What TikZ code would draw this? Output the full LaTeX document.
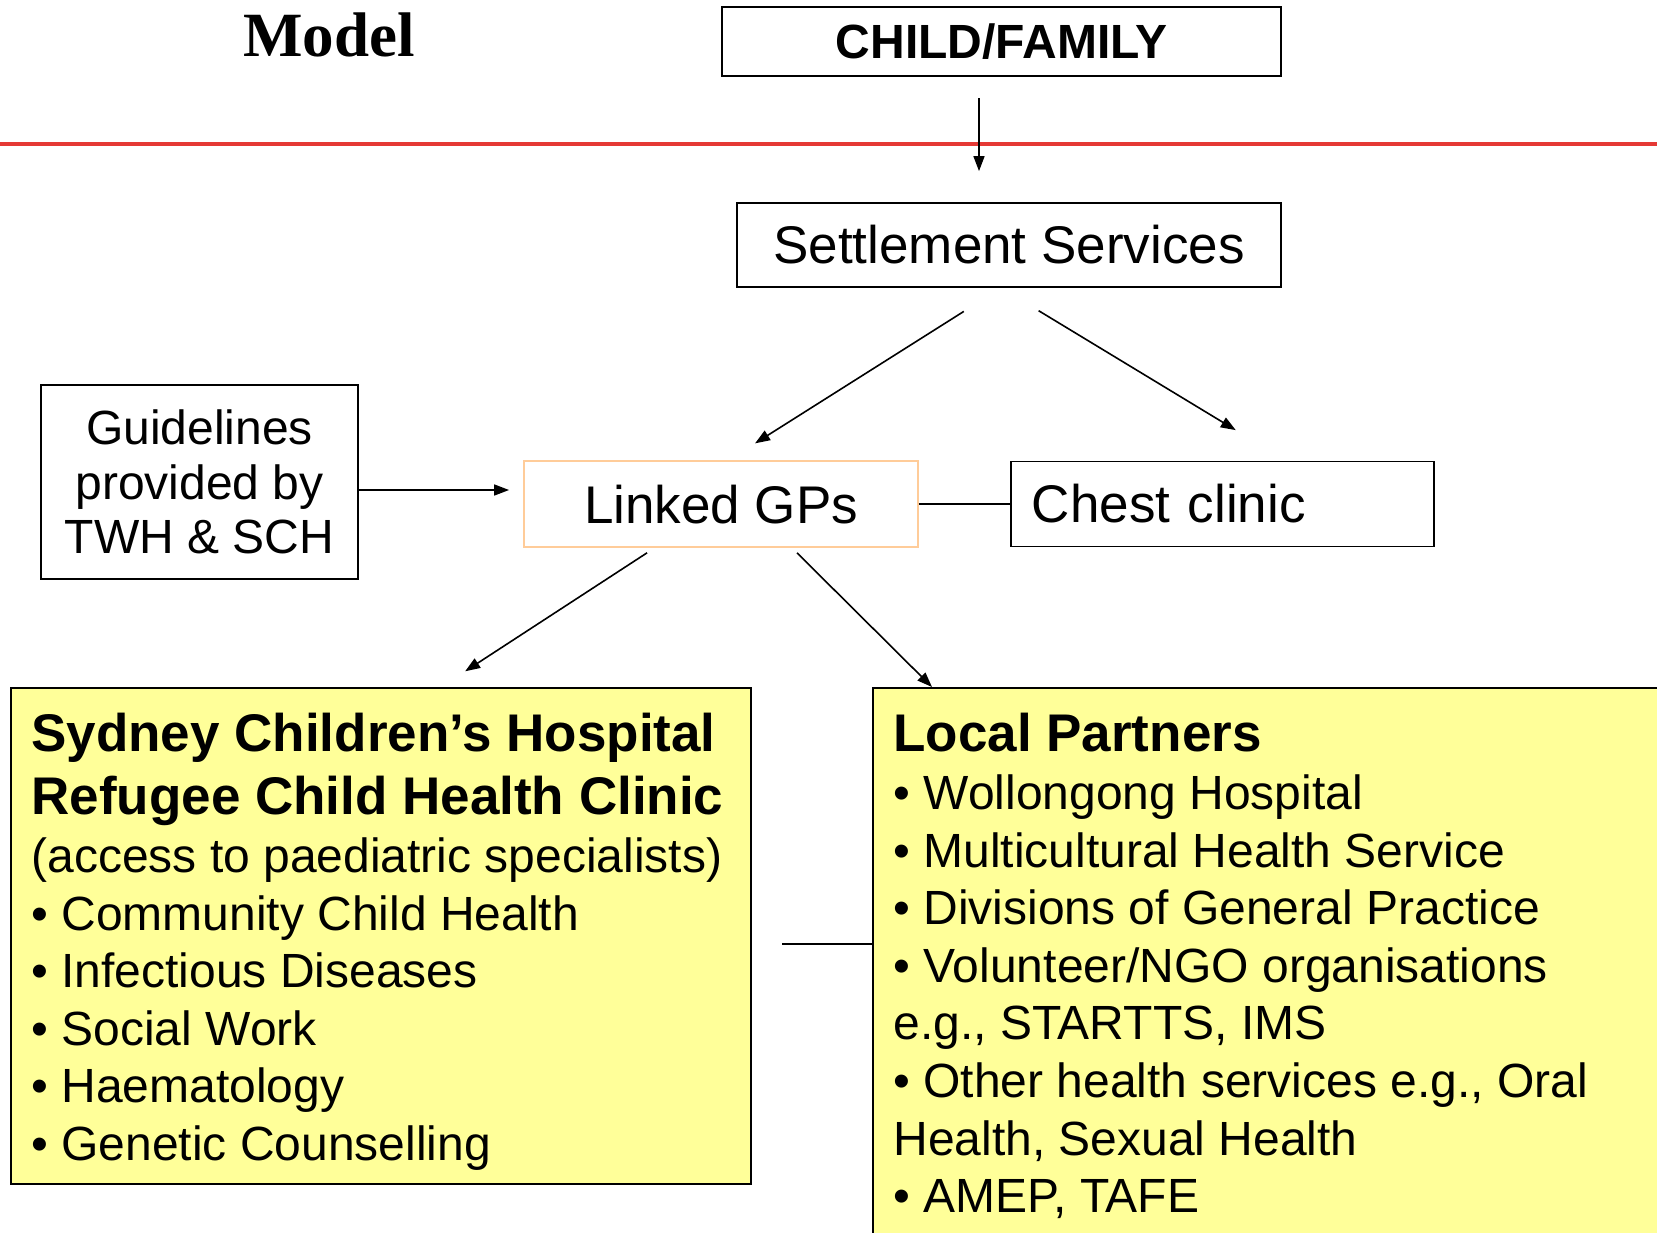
\documentclass[tikz,border=0pt]{standalone}
\usepackage{fontspec}
\setmainfont{Liberation Sans}
\newfontfamily\titlefont{Liberation Serif}
\usepackage{tikz}
\usetikzlibrary{arrows.meta,positioning}
\definecolor{slidered}{HTML}{E53935}
\definecolor{notepad}{HTML}{FFFF99}
\definecolor{peach}{HTML}{FFCC99}
\newcommand\panelhead{\fontsize{26.5}{31}\selectfont\bfseries}

\begin{document}
\begin{tikzpicture}[
  x=0.5pt,y=-0.5pt,
  box/.style={draw,line width=0.9pt,align=center,inner sep=0pt,font=\fontsize{26.5}{31}\selectfont},
  panel/.style={draw,line width=1pt,fill=notepad,inner sep=0pt},
  list/.style={anchor=north west,align=left,inner sep=0pt,font=\fontsize{24}{28.8}\selectfont},
  arr/.style={-{Triangle[length=7.5pt,width=5.5pt]},line width=0.8pt},
  link/.style={line width=0.8pt}
]
\clip (0,0) rectangle (1657,1232);
\fill[white] (0,0) rectangle (1657,1232);

% heading and the red rule under it
\node[font=\titlefont\bfseries\fontsize{31.5}{36}\selectfont,anchor=base] (model) at (329,56) {Model};
\draw[slidered,line width=2pt] (0,144) -- (1657,144);

\node[box,font=\bfseries\fontsize{24}{28}\selectfont,minimum width=279.5pt,minimum height=34.5pt,line width=1.1pt] (child) at (1001.5,41.5) {CHILD/FAMILY};
\node[box,minimum width=272pt,minimum height=42pt] (settle) at (1009,245) {Settlement Services};
\node[box,draw=peach,minimum width=197pt,minimum height=43pt,text depth=0pt] (linked) at (721,504) {Linked GPs};
\node[box,right=45.5pt of linked,align=left,text width=190.75pt,inner xsep=10.5pt,minimum height=42.5pt] (chest) {Chest clinic};
\node[box,font=\fontsize{24}{27.25}\selectfont,minimum width=158.5pt,minimum height=97pt] (guide) at (199.5,482) {Guidelines\\provided by\\TWH \& SCH};

% the two partner panels
\node[panel,minimum width=370pt,minimum height=248pt] (sch) at (381,936) {};
\node[panel,minimum width=413.5pt,minimum height=286pt] (local) at (1286.5,974) {};
\node[list] (schtext) at ([xshift=10.5pt,yshift=-13pt]sch.north west)
  {{\panelhead Sydney Children’s Hospital}\\[2.7pt]{\panelhead Refugee Child Health Clinic}\\(access to paediatric specialists)\\• Community Child Health\\• Infectious Diseases\\• Social Work\\• Haematology\\• Genetic Counselling};
\node[list] (localtext) at ([xshift=10.5pt,yshift=-13pt]local.north west)
  {{\panelhead Local Partners}\\• Wollongong Hospital\\• Multicultural Health Service\\• Divisions of General Practice\\• Volunteer/NGO organisations\\e.g., STARTTS, IMS\\• Other health services e.g., Oral\\Health, Sexual Health\\• AMEP, TAFE};

% connectors
\coordinate (drop) at ([xshift=-11.25pt]child.south);
\draw[arr,shorten <=10.5pt,shorten >=15.5pt] (drop) -- (drop |- settle.north);
\draw[arr,shorten <=22pt,shorten >=15.7pt] ([xshift=-4pt]settle.south) -- ([xshift=3.75pt]linked.north);
\draw[arr,shorten <=22pt,shorten >=29.4pt] ([xshift=-4pt]settle.south) -- ([xshift=31.75pt]chest.north);
\draw[arr,shorten >=7pt] ([yshift=-4pt]guide.east) -- ([yshift=-4pt]guide.east -| linked.west);
\draw[link] (linked) -- (chest);
\draw[arr,shorten <=4.5pt,shorten >=14.4pt] ([xshift=-33.2pt]linked.south) -- ([xshift=30pt]sch.north);
\draw[arr,shorten <=3.5pt] ([xshift=35.5pt]linked.south) -- ([xshift=30pt]local.north west);
\coordinate (tie) at (782,944);
\draw[link] (tie) -- (tie -| local.west);
\end{tikzpicture}
\end{document}
